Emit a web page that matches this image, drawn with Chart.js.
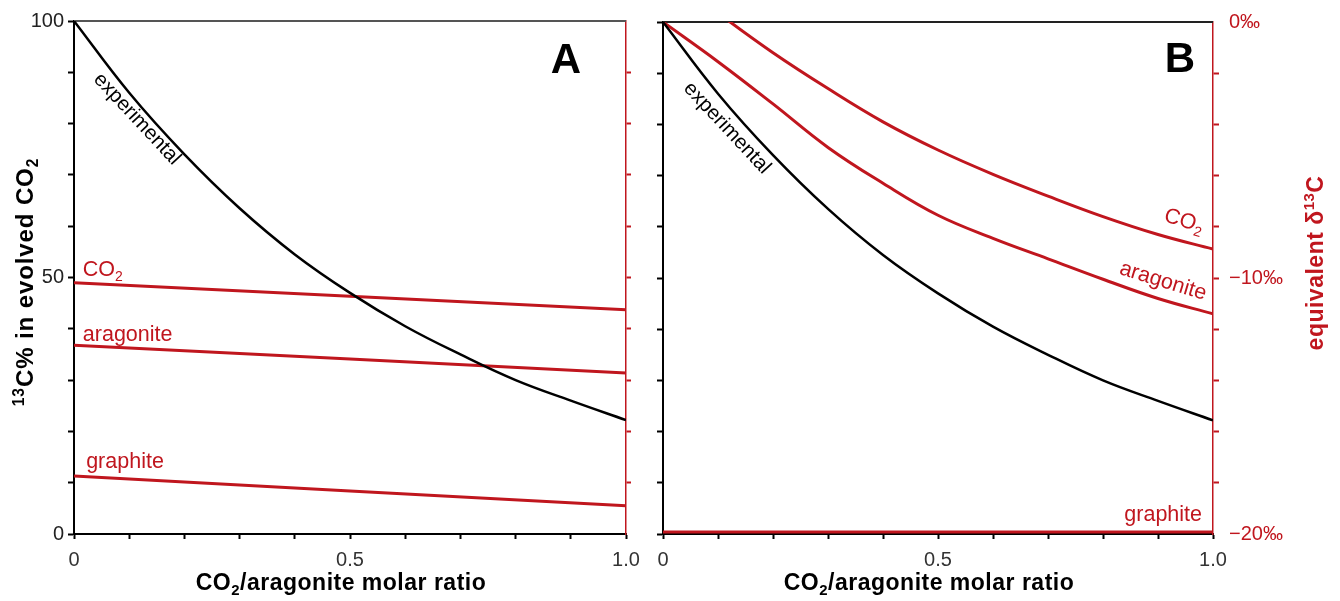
<!DOCTYPE html>
<html><head><meta charset="utf-8">
<script src="https://cdn.jsdelivr.net/npm/chart.js@4/dist/chart.umd.min.js"></script>
<style>
html,body{margin:0;padding:0;background:#fff;overflow:hidden}
#wrap{position:relative;width:1340px;height:601px;background:#fff}
canvas{position:absolute;left:0;top:0}
</style></head><body>
<div id="wrap"><canvas id="ca" width="1340" height="601"></canvas><canvas id="cb" width="1340" height="601"></canvas></div>
<script>
// ---------- data ----------
const xs = [0, 0.1, 0.2, 0.3, 0.4, 0.5, 0.6, 0.7, 0.8, 0.9, 1.0];
const experimental = [100, 86, 74, 63.5, 54.5, 47, 40.5, 35, 30, 26, 22.2];
const xEnds = [0, 1];
const aCO2 = [49.0, 43.7];
const aAragonite = [36.8, 31.4];
const aGraphite = [11.3, 5.5];
const bCO2 = [2.0, 0.35, -1.2, -2.6, -3.9, -5.0, -5.95, -6.8, -7.6, -8.3, -8.87];
const bAragonite = [0, -1.55, -3.2, -4.9, -6.3, -7.55, -8.45, -9.25, -10.05, -10.8, -11.4];
const bGraphite = [-19.92, -19.92];
const xTickLabels = {0: '0', 0.5: '0.5', 1: '1.0'};
const leftTickLabels = {0: '0', 50: '50', 100: '100'};
const rightTickLabels = {0: '0‰', '-10': '−10‰', '-20': '−20‰'};

const RED = '#C0161E';
const FAM = '"Liberation Sans", Arial, Helvetica, sans-serif';

function pts(xArr, yArr){ return xArr.map((x,i)=>({x, y: yArr[i]})); }
function lbl(map, v){
  for (const k in map){ if (Math.abs(Number(k) - v) < 1e-9) return map[k]; }
  return '';
}

// ---------- rich text helper ----------
function partSize(p, size){ return p.s ? size*0.65 : size; }
function setFont(ctx, p, o){
  ctx.font = `${o.weight||'normal'} ${partSize(p,o.size)}px ${FAM}`;
  ctx.letterSpacing = (o.ls || 0) + 'px';
}
function richWidth(ctx, parts, o){
  let w = 0;
  for (const p of parts){ setFont(ctx, p, o); w += ctx.measureText(p.t).width; }
  return w;
}
function drawRich(ctx, parts, x, y, o){
  ctx.save();
  ctx.translate(x, y);
  ctx.rotate((o.rot||0) * Math.PI / 180);
  ctx.fillStyle = o.color || '#000';
  ctx.textBaseline = 'alphabetic';
  ctx.textAlign = 'left';
  const w = richWidth(ctx, parts, o);
  let cx = o.align === 'center' ? -w/2 : (o.align === 'right' ? -w : 0);
  for (const p of parts){
    setFont(ctx, p, o);
    const dy = p.s === 'sub' ? o.size*0.22 : (p.s === 'sup' ? -o.size*0.38 : 0);
    ctx.fillText(p.t, cx, dy);
    cx += ctx.measureText(p.t).width;
  }
  ctx.restore();
}

function tickGrid(color, len, hideEnds){
  return {
    drawOnChartArea: false, drawTicks: true, tickLength: len, tickWidth: 2,
    tickColor: (c) => (hideEnds && c.tick && (c.tick.value === c.scale.min || c.tick.value === c.scale.max)) ? 'rgba(0,0,0,0)' : color
  };
}

function xScale(){
  return {
    type: 'linear', min: 0, max: 1, position: 'bottom',
    afterFit: s => { s.height = 67; },
    ticks: { stepSize: 0.1, autoSkip: false, maxRotation: 0, padding: 9, color: '#333',
             font: {family: FAM, size: 20}, callback: v => lbl(xTickLabels, v) },
    grid: tickGrid('#000', 5, false),
    border: { color: '#000', width: 2 }
  };
}
function leftScale(width, showLabels){
  return {
    type: 'linear', min: 0, max: 100, position: 'left',
    afterFit: s => { s.width = width; },
    ticks: { stepSize: 10, autoSkip: false, padding: 4, color: '#222',
             font: {family: FAM, size: 20}, callback: v => showLabels ? lbl(leftTickLabels, v) : '' },
    grid: tickGrid('#000', 6, false),
    border: { color: '#000', width: 2 }
  };
}

const frame = {
  id: 'frame',
  beforeDatasetsDraw(chart, args, opts){
    const {ctx, chartArea: a} = chart;
    ctx.save();
    ctx.strokeStyle = opts.topColor; ctx.lineWidth = 2;
    ctx.beginPath(); ctx.moveTo(a.left, a.top); ctx.lineTo(a.right, a.top); ctx.stroke();
    ctx.restore();
  },
  afterDraw(chart, args, opts){ if (opts.draw) opts.draw(chart); }
};

const common = {
  animation: false, responsive: false, devicePixelRatio: 1,
  plugins: { legend: {display: false}, tooltip: {enabled: false} },
  elements: { point: { radius: 0 }, line: { tension: 0.4 } }
};

const LBL = 21.5;
const TITLE_X = {size: 23, weight: 'bold', color: '#000', align: 'center', ls: 0.5};

// ---------- Chart A ----------
new Chart(document.getElementById('ca'), {
  type: 'line',
  data: { datasets: [
    { data: pts(xs, experimental), borderColor: '#000', borderWidth: 2.5, yAxisID: 'y' },
    { data: pts(xEnds, aCO2), borderColor: RED, borderWidth: 3, yAxisID: 'y' },
    { data: pts(xEnds, aAragonite), borderColor: RED, borderWidth: 3, yAxisID: 'y' },
    { data: pts(xEnds, aGraphite), borderColor: RED, borderWidth: 3, yAxisID: 'y' }
  ]},
  options: Object.assign({}, common, {
    layout: { padding: { left: 0, right: 680, top: 21, bottom: 0 } },
    scales: {
      x: xScale(),
      y: leftScale(74, true),
      y2: { type: 'linear', min: 0, max: 100, position: 'right',
            afterFit: s => { s.width = 34; },
            ticks: { stepSize: 10, autoSkip: false, callback: () => '' },
            grid: tickGrid(RED, 5, true),
            border: { color: RED, width: 1.5 } }
    },
    plugins: Object.assign({}, common.plugins, {
      frame: { topColor: '#555', draw(chart){
        const {ctx, scales: {x, y}} = chart;
        const px = v => x.getPixelForValue(v), py = v => y.getPixelForValue(v);
        drawRich(ctx, [{t:'experimental'}], px(0.034), py(88.5), {size: 20.5, color: '#000', rot: 47});
        drawRich(ctx, [{t:'CO'},{t:'2', s:'sub'}], px(0.016), py(50.3), {size: LBL, color: RED});
        drawRich(ctx, [{t:'aragonite'}], px(0.016), py(37.6), {size: LBL, color: RED});
        drawRich(ctx, [{t:'graphite'}], px(0.022), py(12.9), {size: LBL, color: RED});
        drawRich(ctx, [{t:'A'}], 566, 73, {size: 42, weight: 'bold', color: '#000', align: 'center'});
        const a = chart.chartArea;
        drawRich(ctx, [{t:'CO'},{t:'2', s:'sub'},{t:'/aragonite molar ratio'}], (a.left+a.right)/2 - 9, 590, TITLE_X);
        drawRich(ctx, [{t:'13', s:'sup'},{t:'C% in evolved CO'},{t:'2', s:'sub'}], 33, 282, {size: 24, weight: 'bold', color: '#000', align: 'center', rot: -90, ls: 0.9});
      } }
    })
  }),
  plugins: [frame]
});

// ---------- Chart B ----------
new Chart(document.getElementById('cb'), {
  type: 'line',
  data: { datasets: [
    { data: pts(xs, experimental), borderColor: '#000', borderWidth: 2.5, yAxisID: 'y' },
    { data: pts(xs, bCO2), borderColor: RED, borderWidth: 3, yAxisID: 'yR' },
    { data: pts(xs, bAragonite), borderColor: RED, borderWidth: 3, yAxisID: 'yR' },
    { data: pts(xEnds, bGraphite), borderColor: RED, borderWidth: 3, yAxisID: 'yR' }
  ]},
  options: Object.assign({}, common, {
    layout: { padding: { left: 620, right: 0, top: 21, bottom: 0 } },
    scales: {
      x: xScale(),
      y: leftScale(43, false),
      yR: { type: 'linear', min: -20, max: 0, position: 'right',
            afterFit: s => { s.width = 127; },
            ticks: { stepSize: 2, autoSkip: false, padding: 10, color: RED,
                     font: {family: FAM, size: 20}, callback: v => lbl(rightTickLabels, v) },
            grid: tickGrid(RED, 6, true),
            border: { color: RED, width: 1.5 } }
    },
    plugins: Object.assign({}, common.plugins, {
      frame: { topColor: '#222', draw(chart){
        const {ctx, scales: {x, y, yR}} = chart;
        const px = v => x.getPixelForValue(v), py = v => y.getPixelForValue(v), pr = v => yR.getPixelForValue(v);
        drawRich(ctx, [{t:'experimental'}], px(0.036), py(86.9), {size: 20.5, color: '#000', rot: 47});
        drawRich(ctx, [{t:'CO'},{t:'2', s:'sub'}], px(0.944), pr(-8.0), {size: LBL, color: RED, align: 'center', rot: 17});
        drawRich(ctx, [{t:'aragonite'}], px(0.906), pr(-10.35), {size: LBL, color: RED, align: 'center', rot: 17});
        drawRich(ctx, [{t:'graphite'}], px(0.98), pr(-19.5), {size: LBL, color: RED, align: 'right'});
        drawRich(ctx, [{t:'B'}], 1180, 72, {size: 42, weight: 'bold', color: '#000', align: 'center'});
        const a = chart.chartArea;
        drawRich(ctx, [{t:'CO'},{t:'2', s:'sub'},{t:'/aragonite molar ratio'}], (a.left+a.right)/2 - 9, 590, TITLE_X);
        drawRich(ctx, [{t:'equivalent δ'},{t:'13', s:'sup'},{t:'C'}], 1323, 263, {size: 23, weight: 'bold', color: RED, align: 'center', rot: -90, ls: 0.5});
      } }
    })
  }),
  plugins: [frame]
});
</script>
</body></html>
